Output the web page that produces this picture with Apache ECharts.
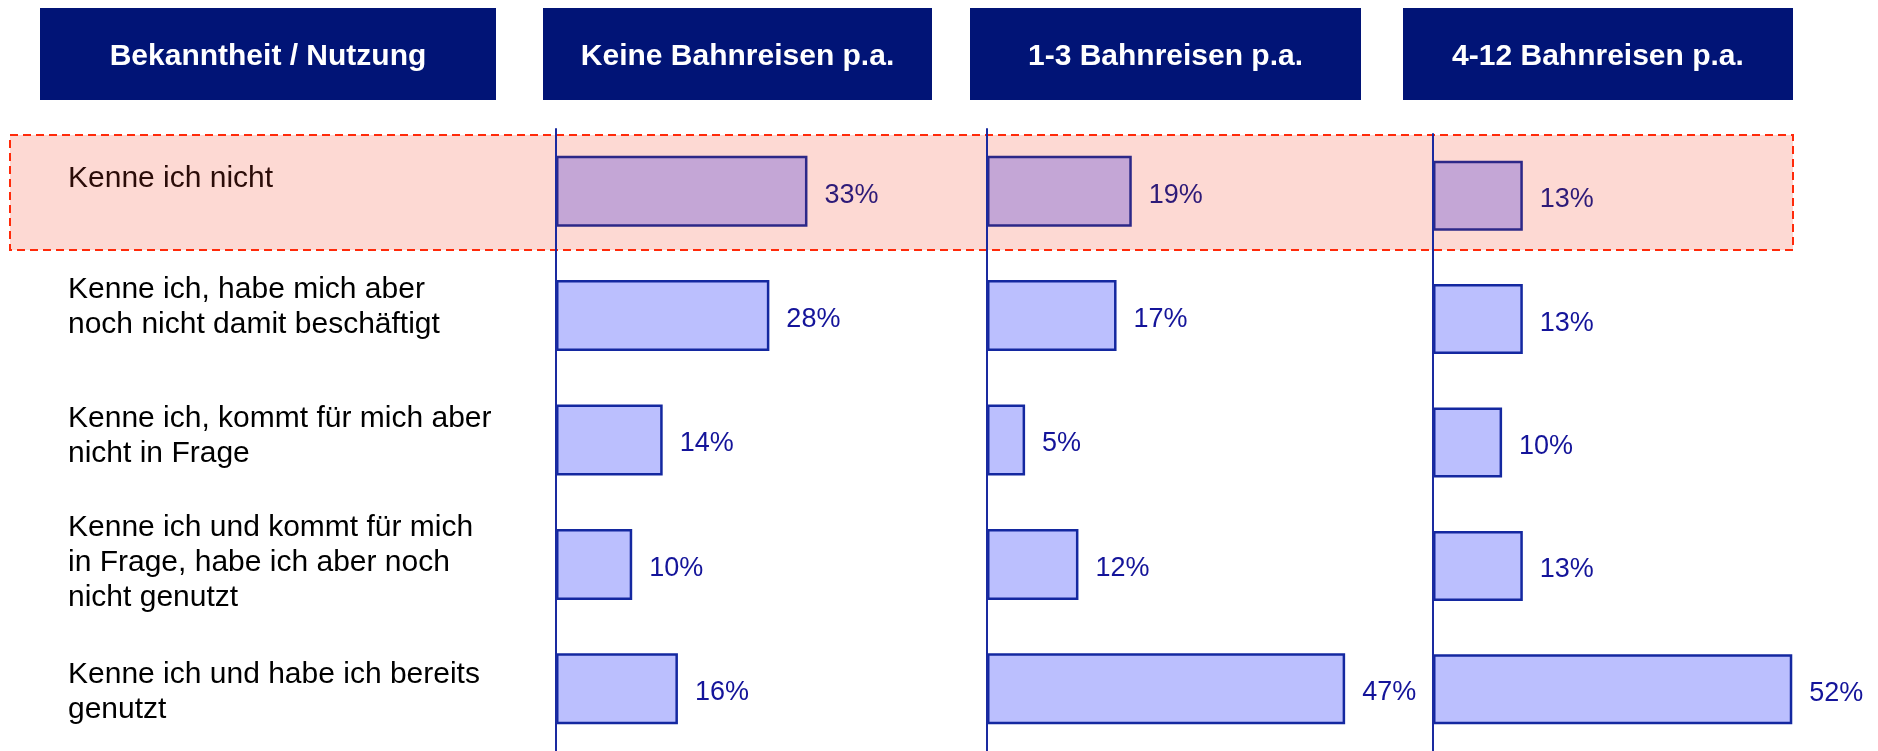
<!DOCTYPE html>
<html><head><meta charset="utf-8">
<script src="https://cdn.jsdelivr.net/npm/echarts@6/dist/echarts.min.js"></script>
<style>html,body{margin:0;padding:0;background:#fff}#c{width:1878px;height:751px}</style>
</head><body><div id="c"></div>
<script>
// ---- data ----
const categories = [
  'Kenne ich nicht',
  'Kenne ich, habe mich aber\nnoch nicht damit beschäftigt',
  'Kenne ich, kommt für mich aber\nnicht in Frage',
  'Kenne ich und kommt für mich\nin Frage, habe ich aber noch\nnicht genutzt',
  'Kenne ich und habe ich bereits\ngenutzt'
];
const headers = ['Bekanntheit / Nutzung', 'Keine Bahnreisen p.a.', '1-3 Bahnreisen p.a.', '4-12 Bahnreisen p.a.'];
const keineReisen = [33, 28, 14, 10, 16];
const reisen1bis3 = [19, 17, 5, 12, 47];
const reisen4bis12 = [13, 13, 10, 13, 52];

// ---- layout / style ----
const FONT = '"Liberation Sans", Arial, sans-serif';
const headerBoxes = [[40, 8, 456, 92], [543, 8, 389, 92], [970, 8, 391, 92], [1403, 8, 390, 92]];
const grids = [
  { left: 556, top: 129, width: 381, height: 625, max: 50, barWidth: 71 },
  { left: 987, top: 129, width: 381, height: 625, max: 50, barWidth: 71 },
  { left: 1433, top: 134, width: 380, height: 620, max: 55, barWidth: 70 }
];
const labelOffsets = [-12, -8, -4, -2, 3];
const seriesData = [keineReisen, reisen1bis3, reisen4bis12];

const chart = echarts.init(document.getElementById('c'), null, { renderer: 'canvas' });

function makeData(arr) {
  return arr.map((v, i) => ({
    value: v,
    itemStyle: i === 0
      ? { color: '#c4a6d6', borderColor: '#2c2888', borderWidth: 2.5 }
      : { color: '#bbbffe', borderColor: '#1428a0', borderWidth: 2.5 },
    label: { color: i === 0 ? '#2d1a78' : '#14149a' }
  }));
}

const graphics = [];
// highlight band
graphics.push({
  type: 'rect', z: -10, silent: true,
  shape: { x: 10, y: 135, width: 1783, height: 115 },
  style: { fill: '#fdd9d3', stroke: '#ff2a0a', lineWidth: 2, lineDash: [8, 5] }
});
headerBoxes.forEach((b, i) => {
  graphics.push({
    type: 'rect', z: 10, silent: true,
    shape: { x: b[0], y: b[1], width: b[2], height: b[3] },
    style: { fill: '#011476' }
  });
  graphics.push({
    type: 'text', z: 11, silent: true,
    x: b[0] + b[2] / 2, y: b[1] + b[3] / 2 + 3,
    style: { text: headers[i], fill: '#ffffff', font: 'bold 30px ' + FONT, align: 'center', verticalAlign: 'middle' }
  });
});

const option = {
  backgroundColor: '#ffffff',
  animation: false,
  graphic: { elements: graphics },
  grid: grids.map(g => ({ left: g.left, top: g.top, width: g.width, height: g.height, containLabel: false })),
  xAxis: grids.map((g, i) => ({
    type: 'value', gridIndex: i, min: 0, max: g.max, show: false
  })),
  yAxis: grids.map((g, i) => ({
    type: 'category', gridIndex: i, data: categories, inverse: true, z: 5,
    axisLine: { show: true, lineStyle: { color: '#1a2aa0', width: 2 } },
    axisTick: { show: false }, axisLabel: { show: false }, splitLine: { show: false }
  })),
  series: seriesData.map((arr, i) => ({
    type: 'bar', xAxisIndex: i, yAxisIndex: i, z: 3,
    barWidth: grids[i].barWidth,
    data: makeData(arr),
    label: {
      show: true, position: 'right', distance: 17, offset: [0, 4],
      formatter: '{c}%', fontFamily: FONT, fontSize: 27
    }
  }))
};
chart.setOption(option);

// category labels, positioned from the category axis scale
const catGraphics = categories.map((c, i) => {
  const yc = chart.convertToPixel({ yAxisIndex: 0 }, c);
  return {
    type: 'text', z: 12, silent: true,
    x: 68, y: yc + labelOffsets[i],
    style: {
      text: c, fill: i === 0 ? '#2b0c08' : '#000000',
      font: '30px ' + FONT, lineHeight: 35, align: 'left', verticalAlign: 'middle'
    }
  };
});
chart.setOption({ graphic: { elements: graphics.concat(catGraphics) } });
</script>
</body></html>
